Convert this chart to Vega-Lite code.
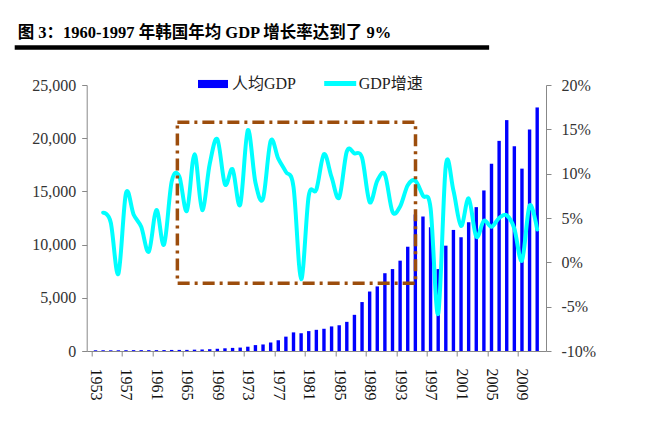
{
  "$schema": "https://vega.github.io/schema/vega-lite/v6.json",
  "width": 459.3,
  "height": 266,
  "autosize": {"type": "none"},
  "padding": {"left": 86.7, "top": 85, "right": 114, "bottom": 73},
  "background": "white",
  "title": {
    "text": "图 3：1960-1997 年韩国年均 GDP 增长率达到了 9%",
    "anchor": "start",
    "frame": "group",
    "font": "Liberation Serif, Noto Sans CJK SC",
    "fontSize": 16.5,
    "fontWeight": "bold",
    "color": "#000000",
    "dx": -69
  },
  "config": {
    "view": {"stroke": null},
    "axis": {
      "grid": false,
      "labelFont": "Liberation Serif",
      "labelFontSize": 16,
      "labelColor": "#333333",
      "domainColor": "#888888",
      "tickColor": "#888888",
      "tickSize": 5,
      "title": null
    },
    "axisX": {
      "labelAngle": 90,
      "labelAlign": "left",
      "labelBaseline": "middle",
      "labelPadding": 12,
      "labelOverlap": false,
      "labelBound": false,
      "labelFlush": false,
      "tickOffset": -3.9,
      "labelOffset": 3.9,
      "labelColor": "#111111"
    }
  },
  "data": {
    "values": [
      {"year": 1953, "gdppc": 67, "growth": null},
      {"year": 1954, "gdppc": 70, "growth": 5.6},
      {"year": 1955, "gdppc": 65, "growth": 4.5},
      {"year": 1956, "gdppc": 66, "growth": -1.3},
      {"year": 1957, "gdppc": 74, "growth": 7.8},
      {"year": 1958, "gdppc": 80, "growth": 5.4},
      {"year": 1959, "gdppc": 81, "growth": 4.0},
      {"year": 1960, "gdppc": 79, "growth": 1.2},
      {"year": 1961, "gdppc": 82, "growth": 5.9},
      {"year": 1962, "gdppc": 87, "growth": 2.0},
      {"year": 1963, "gdppc": 100, "growth": 9.1},
      {"year": 1964, "gdppc": 103, "growth": 9.7},
      {"year": 1965, "gdppc": 105, "growth": 5.8},
      {"year": 1966, "gdppc": 125, "growth": 12.2},
      {"year": 1967, "gdppc": 142, "growth": 5.9},
      {"year": 1968, "gdppc": 169, "growth": 11.1},
      {"year": 1969, "gdppc": 210, "growth": 13.9},
      {"year": 1970, "gdppc": 254, "growth": 8.8},
      {"year": 1971, "gdppc": 292, "growth": 10.5},
      {"year": 1972, "gdppc": 322, "growth": 6.5},
      {"year": 1973, "gdppc": 404, "growth": 14.9},
      {"year": 1974, "gdppc": 554, "growth": 9.0},
      {"year": 1975, "gdppc": 615, "growth": 7.2},
      {"year": 1976, "gdppc": 800, "growth": 13.7},
      {"year": 1977, "gdppc": 1010, "growth": 11.7},
      {"year": 1978, "gdppc": 1350, "growth": 10.2},
      {"year": 1979, "gdppc": 1750, "growth": 8.5},
      {"year": 1980, "gdppc": 1670, "growth": -1.9},
      {"year": 1981, "gdppc": 1870, "growth": 7.5},
      {"year": 1982, "gdppc": 1990, "growth": 8.2},
      {"year": 1983, "gdppc": 2090, "growth": 12.2},
      {"year": 1984, "gdppc": 2310, "growth": 9.6},
      {"year": 1985, "gdppc": 2420, "growth": 7.3},
      {"year": 1986, "gdppc": 2740, "growth": 12.5},
      {"year": 1987, "gdppc": 3400, "growth": 12.3},
      {"year": 1988, "gdppc": 4600, "growth": 11.8},
      {"year": 1989, "gdppc": 5590, "growth": 6.8},
      {"year": 1990, "gdppc": 6070, "growth": 9.2},
      {"year": 1991, "gdppc": 7310, "growth": 9.9},
      {"year": 1992, "gdppc": 7700, "growth": 5.7},
      {"year": 1993, "gdppc": 8490, "growth": 6.3},
      {"year": 1994, "gdppc": 9800, "growth": 8.7},
      {"year": 1995, "gdppc": 12830, "growth": 9.2},
      {"year": 1996, "gdppc": 12640, "growth": 7.5},
      {"year": 1997, "gdppc": 11630, "growth": 6.1},
      {"year": 1998, "gdppc": 7700, "growth": -5.8},
      {"year": 1999, "gdppc": 9900, "growth": 10.9},
      {"year": 2000, "gdppc": 11380, "growth": 8.1},
      {"year": 2001, "gdppc": 10690, "growth": 4.1},
      {"year": 2002, "gdppc": 12100, "growth": 7.2},
      {"year": 2003, "gdppc": 13520, "growth": 2.9},
      {"year": 2004, "gdppc": 15090, "growth": 4.7},
      {"year": 2005, "gdppc": 17610, "growth": 4.0},
      {"year": 2006, "gdppc": 19750, "growth": 5.0},
      {"year": 2007, "gdppc": 21700, "growth": 5.3},
      {"year": 2008, "gdppc": 19250, "growth": 3.8},
      {"year": 2009, "gdppc": 17140, "growth": 0.2},
      {"year": 2010, "gdppc": 20820, "growth": 6.4},
      {"year": 2011, "gdppc": 22890, "growth": 3.7}
    ]
  },
  "layer": [
    {
      "mark": {"type": "bar", "size": 3.4},
      "encoding": {
        "x": {
          "field": "year",
          "type": "quantitative",
          "scale": {"domain": [1952.5, 2011.5], "nice": false, "zero": false},
          "axis": {"labelOverlap": false, "format": "d", "values": [1953, 1957, 1961, 1965, 1969, 1973, 1977, 1981, 1985, 1989, 1993, 1997, 2001, 2005, 2009]}
        },
        "y": {
          "field": "gdppc",
          "type": "quantitative",
          "scale": {"domain": [0, 25000], "nice": false},
          "axis": {
            "orient": "left",
            "values": [0, 5000, 10000, 15000, 20000, 25000],
            "format": ",d",
            "labelPadding": 6
          }
        },
        "color": {
          "datum": "人均GDP",
          "scale": {"range": ["#0000FF"]},
          "legend": {
            "orient": "none",
            "legendX": 111.3,
            "legendY": -16,
            "title": null,
            "padding": 0,
            "symbolType": "M-1,-0.27H1V0.27H-1Z",
            "symbolSize": 900,
            "symbolStrokeWidth": 0,
            "labelFont": "Liberation Serif, Noto Sans CJK SC",
            "labelFontSize": 16,
            "labelColor": "#222222",
            "labelOffset": 4
          }
        }
      }
    },
    {
      "layer": [
        {
          "mark": {"type": "line", "interpolate": "cardinal", "strokeWidth": 4, "strokeCap": "round", "strokeJoin": "round"},
          "encoding": {
            "x": {"field": "year", "type": "quantitative", "scale": {"domain": [1952.5, 2011.5], "nice": false, "zero": false}, "axis": {"labelOverlap": false, "format": "d", "values": [1953, 1957, 1961, 1965, 1969, 1973, 1977, 1981, 1985, 1989, 1993, 1997, 2001, 2005, 2009]}},
            "y": {
              "field": "growth",
              "type": "quantitative",
              "scale": {"domain": [-10, 20], "nice": false, "zero": false},
              "axis": {
                "orient": "right",
                "values": [-10, -5, 0, 5, 10, 15, 20],
                "labelExpr": "datum.value + '%'",
                "labelPadding": 10
              }
            },
            "stroke": {
              "datum": "GDP增速",
              "scale": {"range": ["#00FFFF"]},
              "legend": {
                "orient": "none",
                "legendX": 235,
                "legendY": -20,
                "title": null,
                "padding": 0,
                "symbolType": "stroke",
                "symbolSize": 1024,
                "symbolStrokeWidth": 5,
                "labelFont": "Liberation Serif, Noto Sans CJK SC",
                "labelFontSize": 16,
                "labelColor": "#222222",
                "labelOffset": 0
              }
            }
          }
        },
        {
          "data": {"values": [{}]},
          "mark": {"type": "rect", "filled": false, "stroke": "#9C4D0C", "strokeWidth": 3.5, "strokeDash": [12, 5, 3, 5]},
          "encoding": {
            "x": {"datum": 1963.75, "type": "quantitative", "scale": {"domain": [1952.5, 2011.5], "nice": false, "zero": false}, "axis": {"labelOverlap": false, "format": "d", "values": [1953, 1957, 1961, 1965, 1969, 1973, 1977, 1981, 1985, 1989, 1993, 1997, 2001, 2005, 2009]}},
            "x2": {"datum": 1995.02},
            "y": {"datum": 15.79, "type": "quantitative", "scale": {"domain": [-10, 20], "nice": false, "zero": false}},
            "y2": {"datum": -2.37}
          }
        },
        {
          "data": {"values": [{}]},
          "mark": {"type": "rule", "strokeWidth": 4.5, "color": "#000000", "clip": false},
          "encoding": {
            "x": {"datum": 1942.39, "type": "quantitative", "scale": {"domain": [1952.5, 2011.5], "nice": false, "zero": false}, "axis": {"labelOverlap": false, "format": "d", "values": [1953, 1957, 1961, 1965, 1969, 1973, 1977, 1981, 1985, 1989, 1993, 1997, 2001, 2005, 2009]}},
            "x2": {"datum": 2004.69},
            "y": {"datum": 24.22, "type": "quantitative", "scale": {"domain": [-10, 20], "nice": false, "zero": false}}
          }
        }
      ]
    }
  ],
  "resolve": {"scale": {"y": "independent"}}
}
